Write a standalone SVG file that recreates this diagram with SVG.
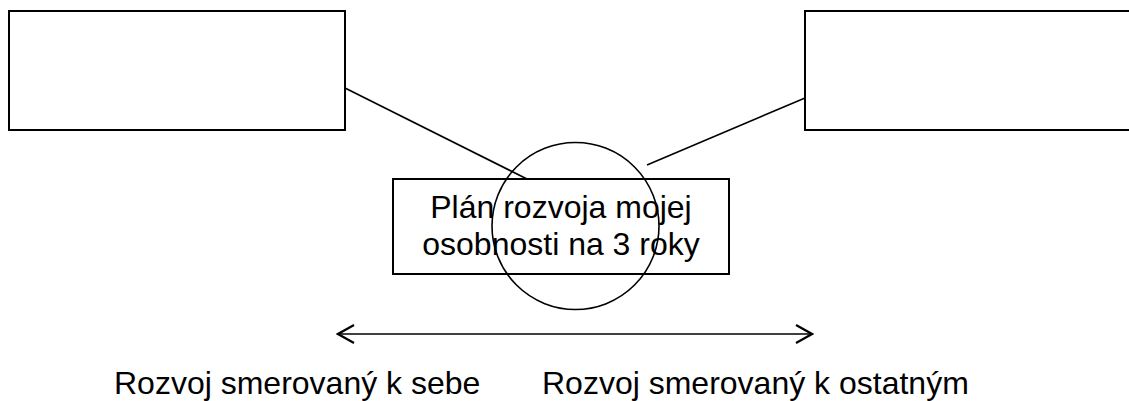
<svg xmlns="http://www.w3.org/2000/svg" width="1129" height="401" viewBox="0 0 1129 401">
<style>
.box{fill:#fff;stroke:#000;stroke-width:2}
.ln{stroke:#000;stroke-width:1.6;fill:none}
.t{font-family:"Liberation Sans",Arial,sans-serif;font-size:32px;fill:#000}
</style>
<defs>
<marker id="ah" viewBox="0 0 20 20" refX="18" refY="10" markerWidth="20" markerHeight="20" markerUnits="userSpaceOnUse" orient="auto-start-reverse">
<path d="M2,1 L18,10 L2,19" fill="none" stroke="#000" stroke-width="2.2"/>
</marker>
</defs>
<rect width="1129" height="401" fill="#fff"/>
<g id="connectors">
<line class="ln" x1="345" y1="88" x2="527" y2="179"/>
<line class="ln" x1="805" y1="98" x2="647" y2="165"/>
<line class="ln" x1="338" y1="334" x2="812" y2="334" stroke-width="2" marker-start="url(#ah)" marker-end="url(#ah)"/>
</g>
<g id="node-left"><rect class="box" x="9" y="11" width="336" height="119"/></g>
<g id="node-right"><rect class="box" x="805" y="11" width="336" height="119"/></g>
<g id="node-center">
<rect class="box" x="393" y="179" width="336" height="95"/>
<text class="t" x="561" y="218" text-anchor="middle">Plán rozvoja mojej</text>
<text class="t" x="561" y="255" text-anchor="middle">osobnosti na 3 roky</text>
</g>
<g id="node-circle"><circle class="ln" cx="575.5" cy="226" r="83.5"/></g>
<g id="labels">
<text class="t" x="114" y="394">Rozvoj smerovaný k sebe</text>
<text class="t" x="542" y="394">Rozvoj smerovaný k ostatným</text>
</g>
</svg>
